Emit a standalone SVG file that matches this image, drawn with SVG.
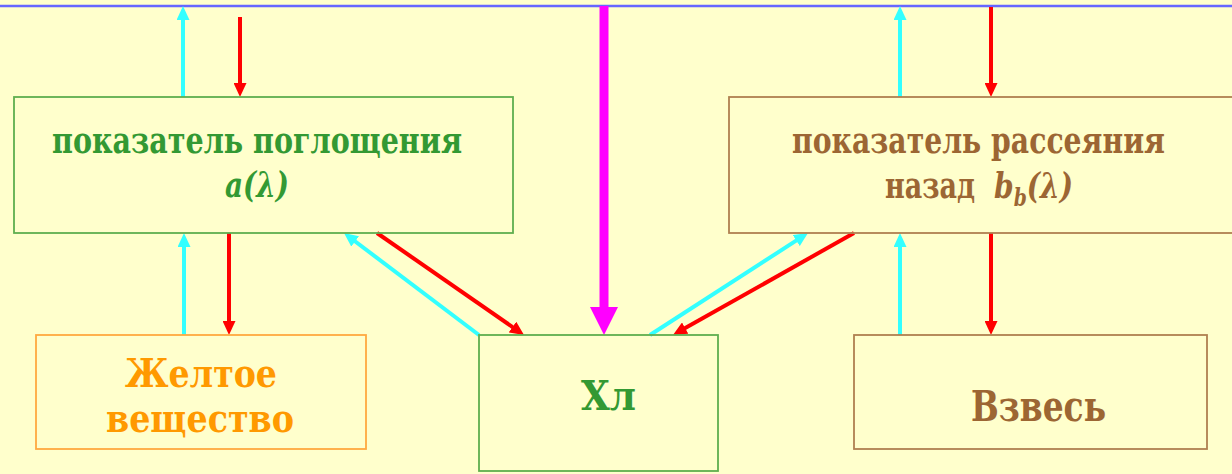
<svg xmlns="http://www.w3.org/2000/svg" width="1232" height="474" viewBox="0 0 1232 474">
<style>
text{font-family:'DejaVu Serif Condensed','DejaVu Serif',serif;font-weight:bold}
.i{font-style:italic}
.g{fill:#339933}
.b{fill:#9C6633}
.o{fill:#FF9900}
.box{fill:none;stroke-width:1.8}
.cy{stroke:#33FFFF;stroke-width:4;fill:none;marker-end:url(#ac)}
.rd{stroke:#FF0000;stroke-width:4;fill:none;marker-end:url(#ar)}
</style>
<defs>
<marker id="ac" markerUnits="userSpaceOnUse" markerWidth="14" markerHeight="13" refX="4" refY="6.5" orient="auto">
<path d="M0,0 L14,6.5 L0,13 z" fill="#33FFFF"/>
</marker>
<marker id="ar" markerUnits="userSpaceOnUse" markerWidth="14" markerHeight="13" refX="4" refY="6.5" orient="auto">
<path d="M0,0 L14,6.5 L0,13 z" fill="#FF0000"/>
</marker>
<marker id="am" markerUnits="userSpaceOnUse" markerWidth="28" markerHeight="28" refX="8" refY="14" orient="auto">
<path d="M0,0 L28,14 L0,28 z" fill="#FF00FF"/>
</marker>
</defs>
<rect x="0" y="0" width="1232" height="474" fill="#FFFFCC"/>
<line x1="0" y1="6" x2="1232" y2="6" stroke="#6666FF" stroke-width="2.5"/>

<g id="connectors">
<line class="cy" x1="183" y1="97" x2="183" y2="16"/>
<line class="rd" x1="240" y1="17" x2="240" y2="87"/>
<line class="cy" x1="900" y1="97" x2="900" y2="16"/>
<line class="rd" x1="991" y1="7" x2="991" y2="87"/>
<line class="cy" x1="184" y1="335" x2="184" y2="243"/>
<line class="rd" x1="229" y1="233" x2="229" y2="325"/>
<line class="cy" x1="900" y1="335" x2="900" y2="243"/>
<line class="rd" x1="991" y1="233" x2="991" y2="325"/>
<line class="cy" x1="479" y1="335" x2="352" y2="239"/>
<line class="rd" x1="377" y1="233" x2="515.8" y2="329.3"/>
<line class="cy" x1="650" y1="335" x2="799.6" y2="238.4"/>
<line class="rd" x1="854" y1="233" x2="681.7" y2="330.1"/>
<line x1="604" y1="6" x2="604" y2="315" stroke="#FF00FF" stroke-width="9" marker-end="url(#am)"/>
</g>

<g id="absorption">
<rect class="box" x="14" y="97" width="499" height="136" stroke="#5FAF4F"/>
<text class="g" x="52" y="153" font-size="37" textLength="410" lengthAdjust="spacingAndGlyphs">показатель поглощения</text>
<text class="i g" x="225" y="197" font-size="36" textLength="64" lengthAdjust="spacingAndGlyphs">a(λ)</text>
</g>

<g id="backscatter">
<rect class="box" x="729" y="97" width="520" height="136" stroke="#B08050"/>
<text class="b" x="792" y="153" font-size="37" textLength="373" lengthAdjust="spacingAndGlyphs">показатель рассеяния</text>
<text class="b" x="885" y="198" font-size="37" textLength="90" lengthAdjust="spacingAndGlyphs">назад</text>
<text class="i b" x="994" y="198" font-size="36" textLength="79" lengthAdjust="spacingAndGlyphs">b<tspan font-size="24" dy="8">b</tspan><tspan dy="-8">(λ)</tspan></text>
</g>

<g id="yellow">
<rect class="box" x="36" y="335" width="330" height="114" stroke="#FFA940"/>
<text class="o" x="125" y="387" font-size="40" textLength="152" lengthAdjust="spacingAndGlyphs">Желтое</text>
<text class="o" x="106" y="432" font-size="40" textLength="188" lengthAdjust="spacingAndGlyphs">вещество</text>
</g>

<g id="chl">
<rect class="box" x="479" y="335" width="239" height="136" stroke="#5FAF4F"/>
<text class="g" x="581" y="410" font-size="41" textLength="55" lengthAdjust="spacingAndGlyphs">Хл</text>
</g>

<g id="suspension">
<rect class="box" x="854" y="335" width="353" height="114" stroke="#B08050"/>
<text class="b" x="971" y="421" font-size="42" textLength="135" lengthAdjust="spacingAndGlyphs">Взвесь</text>
</g>
</svg>
